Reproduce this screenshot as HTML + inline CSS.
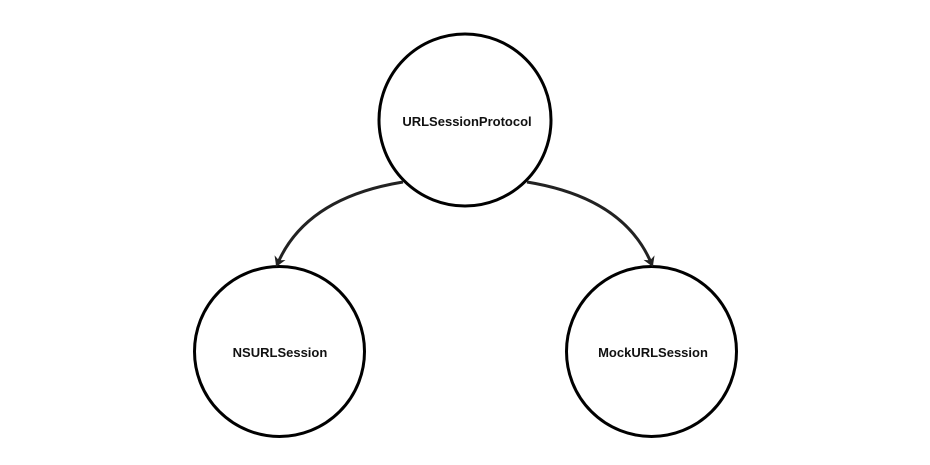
<!DOCTYPE html>
<html><head><meta charset="utf-8"><style>
html,body{margin:0;padding:0;background:#fff;}
svg{display:block}
text{font-family:"Liberation Sans",sans-serif;font-size:13px;font-weight:bold;fill:#111;}
</style></head><body>
<svg width="930" height="465" viewBox="0 0 930 465" xmlns="http://www.w3.org/2000/svg">
<defs>
<marker id="ah" markerWidth="12" markerHeight="12" refX="8" refY="6" orient="auto" markerUnits="userSpaceOnUse">
<path d="M0,0 L10,6 L0,12 L3,6 Z" fill="#222"/>
</marker>
</defs>
<circle cx="465" cy="120" r="86" fill="#fff" stroke="#000" stroke-width="3"/>
<circle cx="279.5" cy="351.5" r="85" fill="#fff" stroke="#000" stroke-width="3"/>
<circle cx="651.5" cy="351.5" r="85" fill="#fff" stroke="#000" stroke-width="3"/>
<path d="M403,182 Q305,198 277,265" fill="none" stroke="#222" stroke-width="3" marker-end="url(#ah)"/>
<path d="M527,182 Q625,198 652,265" fill="none" stroke="#222" stroke-width="3" marker-end="url(#ah)"/>
<text x="467" y="126" text-anchor="middle">URLSessionProtocol</text>
<text x="280" y="357" text-anchor="middle">NSURLSession</text>
<text x="653" y="357" text-anchor="middle">MockURLSession</text>
</svg>
</body></html>
